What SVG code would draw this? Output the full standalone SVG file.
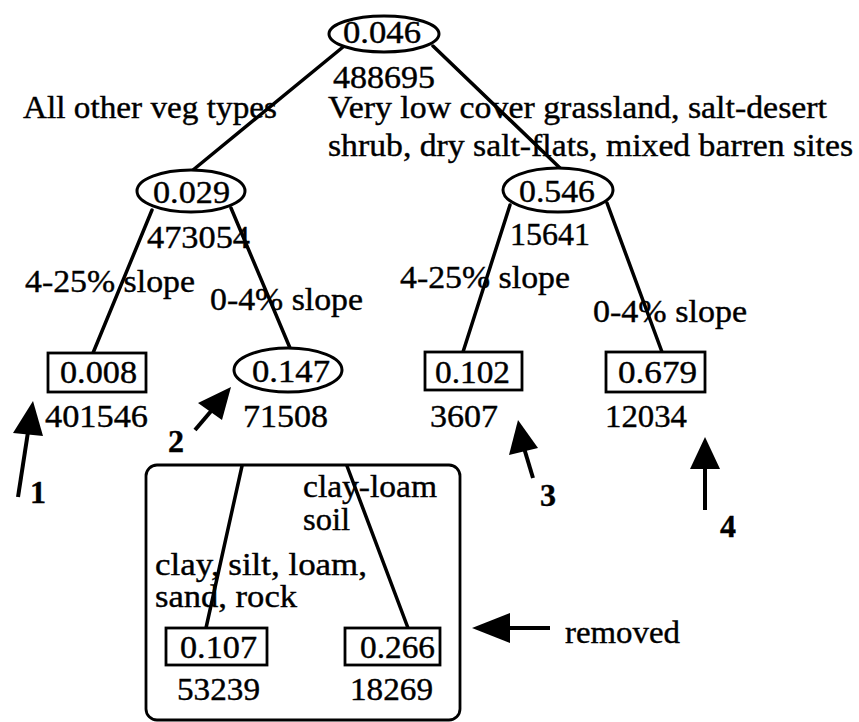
<svg xmlns="http://www.w3.org/2000/svg" width="859" height="722" viewBox="0 0 859 722">
<style>
text{font-family:"Liberation Serif","Times New Roman",serif;font-size:32px;fill:#000;stroke:#000;stroke-width:0.4}
.b{font-weight:bold}
.n{fill:#fff;stroke:#000;stroke-width:3}
.bx{fill:#fff;stroke:#000;stroke-width:2.8}
.c line{stroke:#000;stroke-width:3.5;stroke-linecap:round}
.a line{stroke:#000;stroke-width:4}
.a polygon{fill:#000}
</style>
<rect width="859" height="722" fill="#fff"/>
<rect id="removed-group" x="146" y="465" width="314" height="255" rx="11" fill="none" stroke="#000" stroke-width="2.8"/>
<g id="connectors" class="c">
<line x1="343" y1="47" x2="193" y2="170"/>
<line x1="433" y1="46" x2="560" y2="168"/>
<line x1="152" y1="210" x2="93" y2="353"/>
<line x1="231" y1="208" x2="290" y2="348"/>
<line x1="510" y1="205" x2="463" y2="352"/>
<line x1="607" y1="203" x2="662" y2="352"/>
<line x1="242" y1="466" x2="206" y2="628"/>
<line x1="347" y1="466" x2="408" y2="628"/>
</g>
<g id="edge-labels">
<text x="23" y="118" textLength="254" lengthAdjust="spacingAndGlyphs">All other veg types</text>
<text x="328" y="118" textLength="499" lengthAdjust="spacingAndGlyphs">Very low cover grassland, salt-desert</text>
<text x="328" y="156" textLength="525" lengthAdjust="spacingAndGlyphs">shrub, dry salt-flats, mixed barren sites</text>
<text x="25" y="292" textLength="170" lengthAdjust="spacingAndGlyphs">4-25% slope</text>
<text x="210" y="310" textLength="153" lengthAdjust="spacingAndGlyphs">0-4% slope</text>
<text x="400" y="288" textLength="170" lengthAdjust="spacingAndGlyphs">4-25% slope</text>
<text x="593" y="322" textLength="154" lengthAdjust="spacingAndGlyphs">0-4% slope</text>
<text x="303" y="497" textLength="134" lengthAdjust="spacingAndGlyphs">clay-loam</text>
<text x="303" y="530" textLength="47" lengthAdjust="spacingAndGlyphs">soil</text>
<text x="155" y="575" textLength="212" lengthAdjust="spacingAndGlyphs">clay, silt, loam,</text>
<text x="155" y="607" textLength="142" lengthAdjust="spacingAndGlyphs">sand, rock</text>
</g>
<g id="n-root">
<ellipse class="n" cx="384" cy="34" rx="55" ry="18"/>
<text x="343" y="43" textLength="78" lengthAdjust="spacingAndGlyphs">0.046</text>
<text x="333" y="88" textLength="102" lengthAdjust="spacingAndGlyphs">488695</text>
</g>
<g id="n-029">
<ellipse class="n" cx="191" cy="191" rx="54" ry="21"/>
<text x="153" y="203" textLength="77" lengthAdjust="spacingAndGlyphs">0.029</text>
<text x="147" y="248" textLength="103" lengthAdjust="spacingAndGlyphs">473054</text>
</g>
<g id="n-546">
<ellipse class="n" cx="558" cy="190" rx="55" ry="22"/>
<text x="519" y="202" textLength="76" lengthAdjust="spacingAndGlyphs">0.546</text>
<text x="510" y="245" textLength="80" lengthAdjust="spacingAndGlyphs">15641</text>
</g>
<g id="n-008">
<rect class="bx" x="48" y="353" width="98" height="39"/>
<text x="60" y="383" textLength="77" lengthAdjust="spacingAndGlyphs">0.008</text>
<text x="45" y="427" textLength="103" lengthAdjust="spacingAndGlyphs">401546</text>
</g>
<g id="n-147">
<ellipse class="n" cx="288" cy="370" rx="54" ry="22"/>
<text x="252" y="382" textLength="78" lengthAdjust="spacingAndGlyphs">0.147</text>
<text x="243" y="427" textLength="85" lengthAdjust="spacingAndGlyphs">71508</text>
</g>
<g id="n-102">
<rect class="bx" x="425" y="352" width="97" height="38"/>
<text x="435" y="383" textLength="75" lengthAdjust="spacingAndGlyphs">0.102</text>
<text x="430" y="427" textLength="68" lengthAdjust="spacingAndGlyphs">3607</text>
</g>
<g id="n-679">
<rect class="bx" x="606" y="352" width="99" height="40"/>
<text x="618" y="383" textLength="79" lengthAdjust="spacingAndGlyphs">0.679</text>
<text x="605" y="427" textLength="82" lengthAdjust="spacingAndGlyphs">12034</text>
</g>
<g id="n-107">
<rect class="bx" x="166" y="628" width="101" height="37"/>
<text x="180" y="658" textLength="77" lengthAdjust="spacingAndGlyphs">0.107</text>
<text x="177" y="700" textLength="83" lengthAdjust="spacingAndGlyphs">53239</text>
</g>
<g id="n-266">
<rect class="bx" x="345" y="628" width="95" height="37"/>
<text x="360" y="658" textLength="75" lengthAdjust="spacingAndGlyphs">0.266</text>
<text x="350" y="700" textLength="83" lengthAdjust="spacingAndGlyphs">18269</text>
</g>
<g id="pointers" class="a">
<line x1="18" y1="497" x2="28" y2="432"/>
<polygon points="33,401 13,433 43,436"/>
<text class="b" x="30" y="503">1</text>
<line x1="195" y1="430" x2="212" y2="410"/>
<polygon points="231,387 198,403 222,420"/>
<text class="b" x="168" y="452">2</text>
<line x1="533" y1="478" x2="524" y2="448"/>
<polygon points="518,420 509,455 538,448"/>
<text class="b" x="540" y="506">3</text>
<line x1="705" y1="510" x2="705" y2="465"/>
<polygon points="705,437 690,469 720,469"/>
<text class="b" x="720" y="537">4</text>
<line x1="550" y1="628" x2="505" y2="628"/>
<polygon points="472,628 510,613 510,643"/>
<text x="565" y="643" textLength="115" lengthAdjust="spacingAndGlyphs">removed</text>
</g>
</svg>
